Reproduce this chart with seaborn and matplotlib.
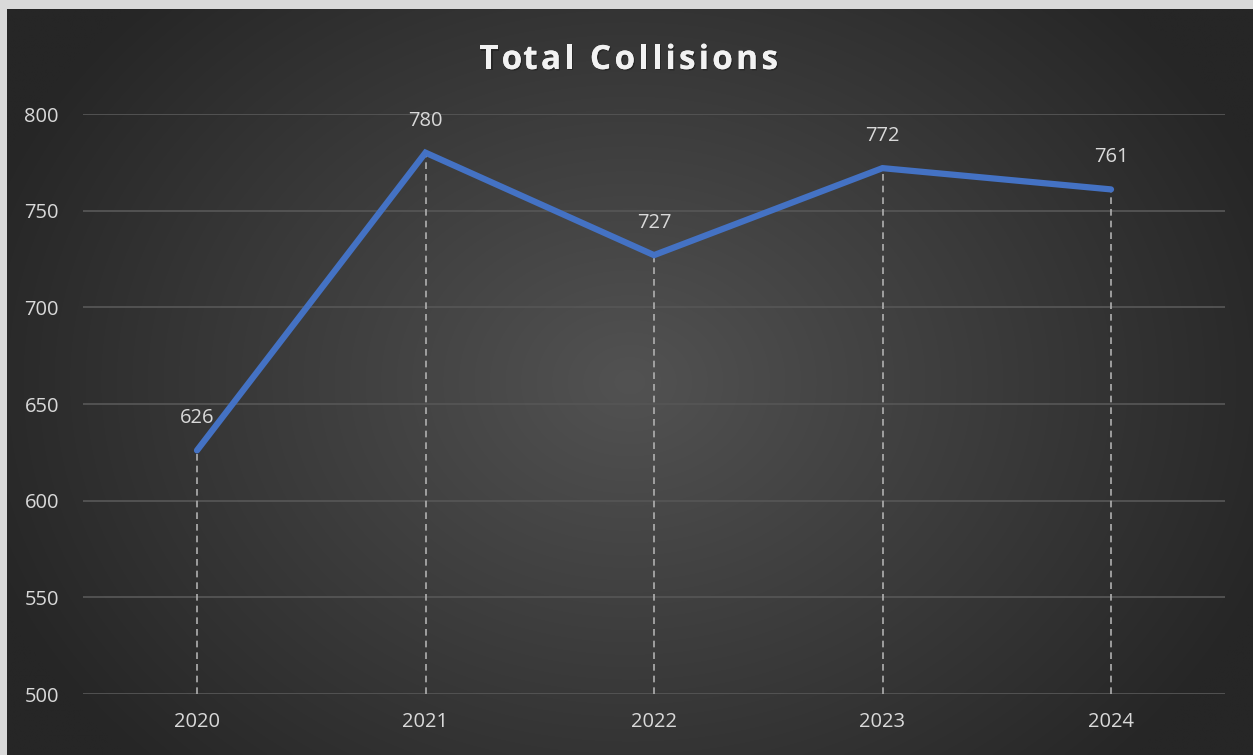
import numpy as np
import pandas as pd
import matplotlib
matplotlib.use("Agg")
import matplotlib.pyplot as plt
import matplotlib.patheffects as pe
import seaborn as sns

years = ["2020", "2021", "2022", "2023", "2024"]
collisions = [626, 780, 727, 772, 761]
y_ticks = [500, 550, 600, 650, 700, 750, 800]
title_text = "Total Collisions"

sns.set_theme(style="dark")
plt.rcParams["font.family"] = ["Open Sans", "DejaVu Sans"]

W, H = 1253, 755
fig = plt.figure(figsize=(W / 100, H / 100), dpi=100)
fig.patch.set_facecolor("#d9d9d9")

# background panel with radial gradient
bx0, by_top = 7 / W, 9 / H
bg = fig.add_axes([bx0, 0, 1 - bx0, 1 - by_top])
bg.set_axis_off()
nx, ny = 600, 360
xx, yy = np.meshgrid(np.linspace(-1, 1, nx), np.linspace(-1, 1, ny))
r = np.sqrt(xx ** 2 + (yy * 0.75) ** 2)
r = np.clip(r / 1.1, 0, 1)
c_in = np.array([0x52, 0x52, 0x52]) / 255
c_out = np.array([0x26, 0x26, 0x26]) / 255
img = c_in[None, None, :] * (1 - r[..., None]) + c_out[None, None, :] * r[..., None]
bg.imshow(img, aspect="auto", extent=[0, 1, 0, 1], interpolation="bilinear")

ax = fig.add_axes([82.75 / W, 1 - 694 / H, (1225.25 - 82.75) / W, (694 - 114) / H])
ax.patch.set_alpha(0)
df = pd.DataFrame({"year": years, "collisions": collisions})
xpos = np.arange(len(years))
df["x"] = xpos

for s in ax.spines.values():
    s.set_visible(False)
for t in y_ticks:
    ax.axhline(t, color="#555555", lw=1.3, zorder=0)

ax.vlines(df["x"], y_ticks[0], df["collisions"], colors="#b0b0b0",
          linestyles=(0, (4, 3)), lw=1.2, zorder=1)
sns.lineplot(data=df, x="x", y="collisions", ax=ax, color="#4472C4",
             lw=4.5, zorder=3, solid_capstyle="round", solid_joinstyle="miter")

for xi, v in zip(df["x"], df["collisions"]):
    ax.annotate(str(v), (xi, v), xytext=(0, 23), textcoords="offset points",
                ha="center", va="center", color="#d9d9d9", fontsize=14.5)

ax.set_xlim(-0.5, len(years) - 0.5)
ax.set_ylim(y_ticks[0], y_ticks[-1])
ax.set_xticks(xpos)
ax.set_xticklabels(years)
ax.set_yticks(y_ticks)
ax.tick_params(axis="both", colors="#d9d9d9", labelsize=14.5, length=0)
ax.tick_params(axis="x", pad=13)
ax.tick_params(axis="y", pad=42)
for lab in ax.get_yticklabels():
    lab.set_horizontalalignment("left")
ax.set_xlabel("")
ax.set_ylabel("")
ax.grid(False)

# title with letter spacing: place characters one by one
renderer = fig.canvas.get_renderer()
base_kw = dict(color="#f2f2f2", fontsize=24, fontweight="bold",
               va="baseline", ha="left")
shadow = [pe.withSimplePatchShadow(offset=(1.0, -1.0), shadow_rgbFace="#111111",
                                   alpha=0.4),
          pe.Normal()]
spacing_px = 3.3
center_x = (478 + 779) / 2
widths = []
for i in range(1, len(title_text) + 1):
    tmp = fig.text(0, 0, title_text[:i], **base_kw)
    widths.append(tmp.get_window_extent(renderer).width)
    tmp.remove()
total = widths[-1] + spacing_px * (len(title_text) - 1)
x0 = center_x - total / 2
base_y = 1 - 69 / H
for i, ch in enumerate(title_text):
    prev = widths[i - 1] if i > 0 else 0.0
    xpix = x0 + prev + spacing_px * i
    fig.text(xpix / W, base_y, ch, path_effects=shadow, **base_kw)

fig.savefig("out.png", dpi=100, facecolor=fig.get_facecolor())
